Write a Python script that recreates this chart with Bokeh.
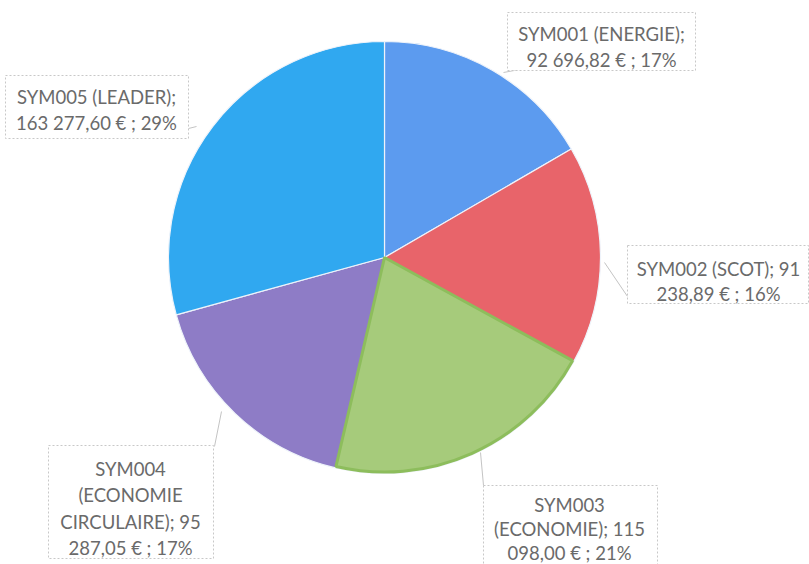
import math
import textwrap
from bokeh.plotting import figure
from bokeh.models import Range1d, ColumnDataSource
from bokeh.core.properties import value
from bokeh.embed import file_html
from bokeh.resources import INLINE

# ---- data ----
categories = ["SYM001 (ENERGIE)", "SYM002 (SCOT)", "SYM003 (ECONOMIE)",
              "SYM004 (ECONOMIE CIRCULAIRE)", "SYM005 (LEADER)"]
amounts = [92696.82, 91238.89, 115098.00, 95287.05, 163277.60]
colors = ["#5C9BEF", "#E8646A", "#A6CB7B", "#8E7CC6", "#30A8F0"]

# ---- layout (picture pixels, converted to plot coords) ----
W, H = 809, 564


def X(sx):
    return sx


def Y(sy):
    return H - sy


CX, CY, R = X(384), Y(257), 216
wrap_width = [18, 17, 15, 15, 18]
boxes = [(507, 12, 695, 70), (627, 245, 808, 303), (483, 485, 657, 590),
         (48, 445, 213, 558), (5, 75, 188, 138)]
text_cx = [601, 718, 569, 130, 96]
text_y0 = [33, 268, 504, 468, 96]
line_step = [26.5, 25, 24, 26.5, 26.5]
leaders = [(503, 72, 530, 67), (604, 262, 627, 296), (480, 452, 483, 485),
           (221, 411, 214, 446), (188, 128, 196, 126)]

total = sum(amounts)
fracs = [a / total for a in amounts]
starts, ends = [], []
cum = 0.0
for f in fracs:
    starts.append(math.pi / 2 - 2 * math.pi * cum)
    cum += f
    ends.append(math.pi / 2 - 2 * math.pi * cum)


def fr(v):
    return f"{v:,.2f}".replace(",", " ").replace(".", ",")


labels = [f"{c}; {fr(a)} € ; {round(f * 100)}%" for c, a, f in zip(categories, amounts, fracs)]

p = figure(width=W, height=H, output_backend="svg", toolbar_location=None,
           x_range=Range1d(0, W), y_range=Range1d(0, H), min_border=0)
p.axis.visible = False
p.grid.visible = False
p.outline_line_color = None
p.background_fill_color = "white"

src = ColumnDataSource(dict(x=[CX] * 5, y=[CY] * 5, s=starts, e=ends, c=colors))
p.wedge(x="x", y="y", radius=R, start_angle="s", end_angle="e", direction="clock",
        fill_color="c", line_color="#EEF3FA", line_width=1.2, source=src)
# green slice outline
p.wedge(x=CX, y=CY, radius=R - 1.5, start_angle=starts[2], end_angle=ends[2], direction="clock",
        fill_color=None, line_color="#8DBD5C", line_width=3)

# leader lines
p.segment(x0=[X(l[0]) for l in leaders], y0=[Y(l[1]) for l in leaders],
          x1=[X(l[2]) for l in leaders], y1=[Y(l[3]) for l in leaders],
          line_color="#C4C4C4", line_width=1)

# label boxes
p.quad(left=[X(b[0]) for b in boxes], right=[X(b[2]) for b in boxes],
       top=[Y(b[1]) for b in boxes], bottom=[Y(b[3]) for b in boxes],
       fill_color="white", line_color="#C8C8C8", line_dash="2 2", line_width=1)

tx, ty, tt = [], [], []
for i, lab in enumerate(labels):
    lines = textwrap.wrap(lab, width=wrap_width[i], break_on_hyphens=False)
    for j, ln in enumerate(lines):
        tx.append(X(text_cx[i]))
        ty.append(Y(text_y0[i] + j * line_step[i]))
        tt.append(ln)
p.text(x=tx, y=ty, text=tt, text_align="center", text_baseline="middle",
       text_font=value("Lato"), text_font_size="18.5px", text_color="#6A6A6A")

open("out.html", "w").write(file_html(p, INLINE))
